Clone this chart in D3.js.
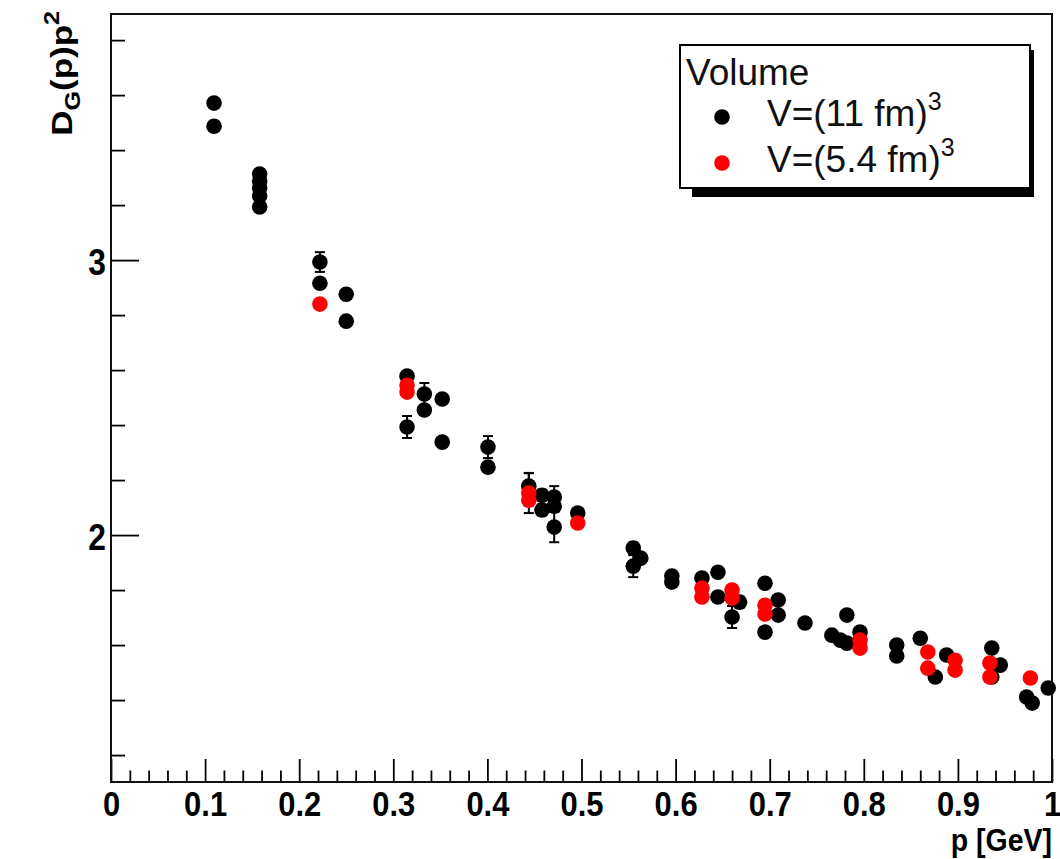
<!DOCTYPE html>
<html>
<head>
<meta charset="utf-8">
<script src="https://cdn.jsdelivr.net/npm/d3@7"></script>
<style>
  html, body { margin: 0; padding: 0; background: #fff; }
  svg { display: block; }
  text { font-family: "Liberation Sans", Arial, Helvetica, sans-serif; }
</style>
</head>
<body>
<svg id="chart" width="1060" height="859"></svg>
<script>
// Gluon dressing function D_G(p) p^2 against momentum for two lattice volumes.

// V = (11 fm)^3
const pLarge = [0.1095, 0.1095, 0.158, 0.158, 0.158, 0.158, 0.158, 0.222, 0.222, 0.25,
                0.25, 0.3146, 0.3146, 0.333, 0.333, 0.352, 0.352, 0.4006, 0.4006, 0.444,
                0.458, 0.458, 0.471, 0.471, 0.471, 0.496, 0.555, 0.563, 0.555, 0.596,
                0.596, 0.628, 0.645, 0.645, 0.668, 0.66, 0.695, 0.709, 0.709, 0.695,
                0.7375, 0.766, 0.782, 0.782, 0.796, 0.775, 0.835, 0.835, 0.86, 0.876,
                0.888, 0.936, 0.945, 0.936, 0.973, 0.979, 0.996];
const dLarge = [3.571, 3.487, 3.313, 3.287, 3.262, 3.233, 3.193, 2.993, 2.916, 2.876,
                2.778, 2.578, 2.393, 2.513, 2.455, 2.495, 2.338, 2.320, 2.247, 2.178,
                2.145, 2.091, 2.138, 2.105, 2.029, 2.080, 1.953, 1.916, 1.887, 1.851,
                1.829, 1.844, 1.865, 1.775, 1.756, 1.702, 1.825, 1.764, 1.709, 1.647,
                1.680, 1.636, 1.709, 1.607, 1.647, 1.618, 1.600, 1.560, 1.625, 1.484,
                1.564, 1.589, 1.527, 1.484, 1.411, 1.389, 1.444];
const eLarge = [0.015, 0.015, 0.015, 0.015, 0.015, 0.015, 0.015, 0.036, 0.015, 0.015,
                0.015, 0.015, 0.040, 0.040, 0.015, 0.015, 0.015, 0.040, 0.015, 0.047,
                0.020, 0.020, 0.040, 0.020, 0.055, 0.015, 0.020, 0.015, 0.040, 0.015,
                0.015, 0.015, 0.015, 0.015, 0.020, 0.040, 0.015, 0.015, 0.015, 0.015,
                0.015, 0.015, 0.015, 0.015, 0.015, 0.015, 0.015, 0.015, 0.015, 0.015,
                0.015, 0.015, 0.015, 0.015, 0.015, 0.015, 0.015];

// V = (5.4 fm)^3
const pSmall = [0.222, 0.3146, 0.3146, 0.444, 0.444, 0.496, 0.628, 0.628, 0.66, 0.66,
                0.695, 0.695, 0.796, 0.796, 0.868, 0.868, 0.897, 0.897, 0.934, 0.934, 0.977];
const dSmall = [2.840, 2.545, 2.520, 2.153, 2.127, 2.044, 1.807, 1.775, 1.800, 1.771,
                1.745, 1.713, 1.618, 1.589, 1.575, 1.516, 1.545, 1.509, 1.535, 1.484, 1.480];
const eSmall = [0.015, 0.015, 0.015, 0.073, 0.020, 0.015, 0.015, 0.015, 0.015, 0.015,
                0.015, 0.015, 0.015, 0.015, 0.015, 0.015, 0.015, 0.015, 0.015, 0.015, 0.015];

const xMajorTicks = [0, 0.1, 0.2, 0.3, 0.4, 0.5, 0.6, 0.7, 0.8, 0.9, 1];
const xTickLabels = ["0", "0.1", "0.2", "0.3", "0.4", "0.5", "0.6", "0.7", "0.8", "0.9", "1"];
const yMajorTicks = [2, 3];
const yTickLabels = ["2", "3"];
const xTitle = "p [GeV]";
const legendTitle = "Volume";
const seriesNames = ["V=(11 fm)", "V=(5.4 fm)"];
const seriesColors = ["#000000", "#ff0000"];

const x = d3.scaleLinear().domain([0, 1]).range([111, 1052]);
const y = d3.scaleLinear().domain([1.102, 3.895]).range([782, 14]);

const svg = d3.select("#chart");
const [x0, x1] = x.range();
const [yb, yt] = y.range();

svg.append("rect").attr("width", 1060).attr("height", 859).attr("fill", "#fff");

// ---- axes (ticks point into the frame) ----
const xMinor = d3.range(0, 50.5, 1).map(i => i / 50).filter(v => Math.round(v * 50) % 5 !== 0);
svg.append("g").attr("transform", `translate(0,${yb})`)
  .call(d3.axisBottom(x).tickValues(xMinor).tickFormat("").tickSizeInner(-11.5).tickSizeOuter(0))
  .call(g => g.select(".domain").remove());
const gx = svg.append("g").attr("transform", `translate(0,${yb})`)
  .call(d3.axisBottom(x).tickValues(xMajorTicks).tickFormat((d, i) => xTickLabels[i])
        .tickSizeInner(-23).tickSizeOuter(0).tickPadding(8))
  .call(g => g.select(".domain").remove());
gx.selectAll("text")
  .attr("font-size", 36).attr("font-weight", "bold").attr("fill", "#000")
  .attr("font-family", "'Liberation Sans', Arial, sans-serif")
  .attr("transform", "scale(0.86,1)");

const yMinor = d3.range(6, 20, 1).map(i => i / 5).filter(v => Math.abs(v - Math.round(v)) > 1e-6);
svg.append("g").attr("transform", `translate(${x0},0)`)
  .call(d3.axisLeft(y).tickValues(yMinor).tickFormat("").tickSizeInner(-14).tickSizeOuter(0))
  .call(g => g.select(".domain").remove());
const gy = svg.append("g").attr("transform", `translate(${x0},0)`)
  .call(d3.axisLeft(y).tickValues(yMajorTicks).tickFormat((d, i) => yTickLabels[i])
        .tickSizeInner(-28).tickSizeOuter(0).tickPadding(6))
  .call(g => g.select(".domain").remove());
gy.selectAll("text")
  .attr("font-size", 37).attr("font-weight", "bold").attr("fill", "#000").attr("dy", "0.4em")
  .attr("font-family", "'Liberation Sans', Arial, sans-serif")
  .attr("transform", "scale(0.86,1)");

svg.selectAll(".tick line").attr("stroke", "#000").attr("stroke-width", 1.8);

// ---- frame ----
svg.append("rect")
  .attr("x", x0).attr("y", yt).attr("width", x1 - x0).attr("height", yb - yt)
  .attr("fill", "none").attr("stroke", "#111").attr("stroke-width", 2);

// ---- data: error bars then markers ----
const R = 7.8;
function drawSeries(ps, ds, es, color) {
  const pts = ps.map((p, i) => ({ p, d: ds[i], e: es[i] }));
  const g = svg.append("g");
  g.selectAll("line.err").data(pts).join("line").attr("class", "err")
    .attr("x1", d => x(d.p)).attr("x2", d => x(d.p))
    .attr("y1", d => y(d.d - d.e)).attr("y2", d => y(d.d + d.e))
    .attr("stroke", "#000").attr("stroke-width", 2);
  [-1, 1].forEach(s => {
    g.selectAll(null).data(pts).join("line")
      .attr("x1", d => x(d.p) - 5).attr("x2", d => x(d.p) + 5)
      .attr("y1", d => y(d.d + s * d.e)).attr("y2", d => y(d.d + s * d.e))
      .attr("stroke", "#000").attr("stroke-width", 2);
  });
  g.selectAll("circle").data(pts).join("circle")
    .attr("cx", d => x(d.p)).attr("cy", d => y(d.d)).attr("r", R)
    .attr("fill", color);
}
drawSeries(pLarge, dLarge, eLarge, seriesColors[0]);
drawSeries(pSmall, dSmall, eSmall, seriesColors[1]);

// ---- axis titles ----
svg.append("text")
  .attr("transform", `translate(${x1},851) scale(0.92,1)`)
  .attr("text-anchor", "end")
  .attr("font-size", 31).attr("font-weight", "bold").attr("fill", "#000")
  .text(xTitle);

const yTitle = svg.append("text")
  .attr("transform", "translate(72,11) rotate(-90) scale(1,0.86)")
  .attr("text-anchor", "end")
  .attr("font-size", 35).attr("font-weight", "bold").attr("fill", "#000");
yTitle.append("tspan").text("D");
yTitle.append("tspan").attr("font-size", 25).attr("dy", 9).text("G");
yTitle.append("tspan").attr("dy", -9).text("(p)p");
yTitle.append("tspan").attr("font-size", 25).attr("dy", -15).text("2");

// ---- legend ----
const lg = svg.append("g");
lg.append("rect").attr("x", 692).attr("y", 50).attr("width", 342).attr("height", 147).attr("fill", "#000");
lg.append("rect").attr("x", 680).attr("y", 45).attr("width", 350).attr("height", 143)
  .attr("fill", "#fff").attr("stroke", "#000").attr("stroke-width", 2);
lg.append("text").attr("x", 686).attr("y", 85).attr("font-size", 37).attr("fill", "#111").text(legendTitle);
const rows = [126, 172];
seriesNames.forEach((name, i) => {
  lg.append("circle").attr("cx", 722).attr("cy", rows[i] - 9).attr("r", R).attr("fill", seriesColors[i]);
  const t = lg.append("text").attr("x", 767).attr("y", rows[i]).attr("font-size", 37).attr("fill", "#111");
  t.append("tspan").text(name);
  t.append("tspan").attr("font-size", 25).attr("dy", -16).text("3");
});
</script>
</body>
</html>
